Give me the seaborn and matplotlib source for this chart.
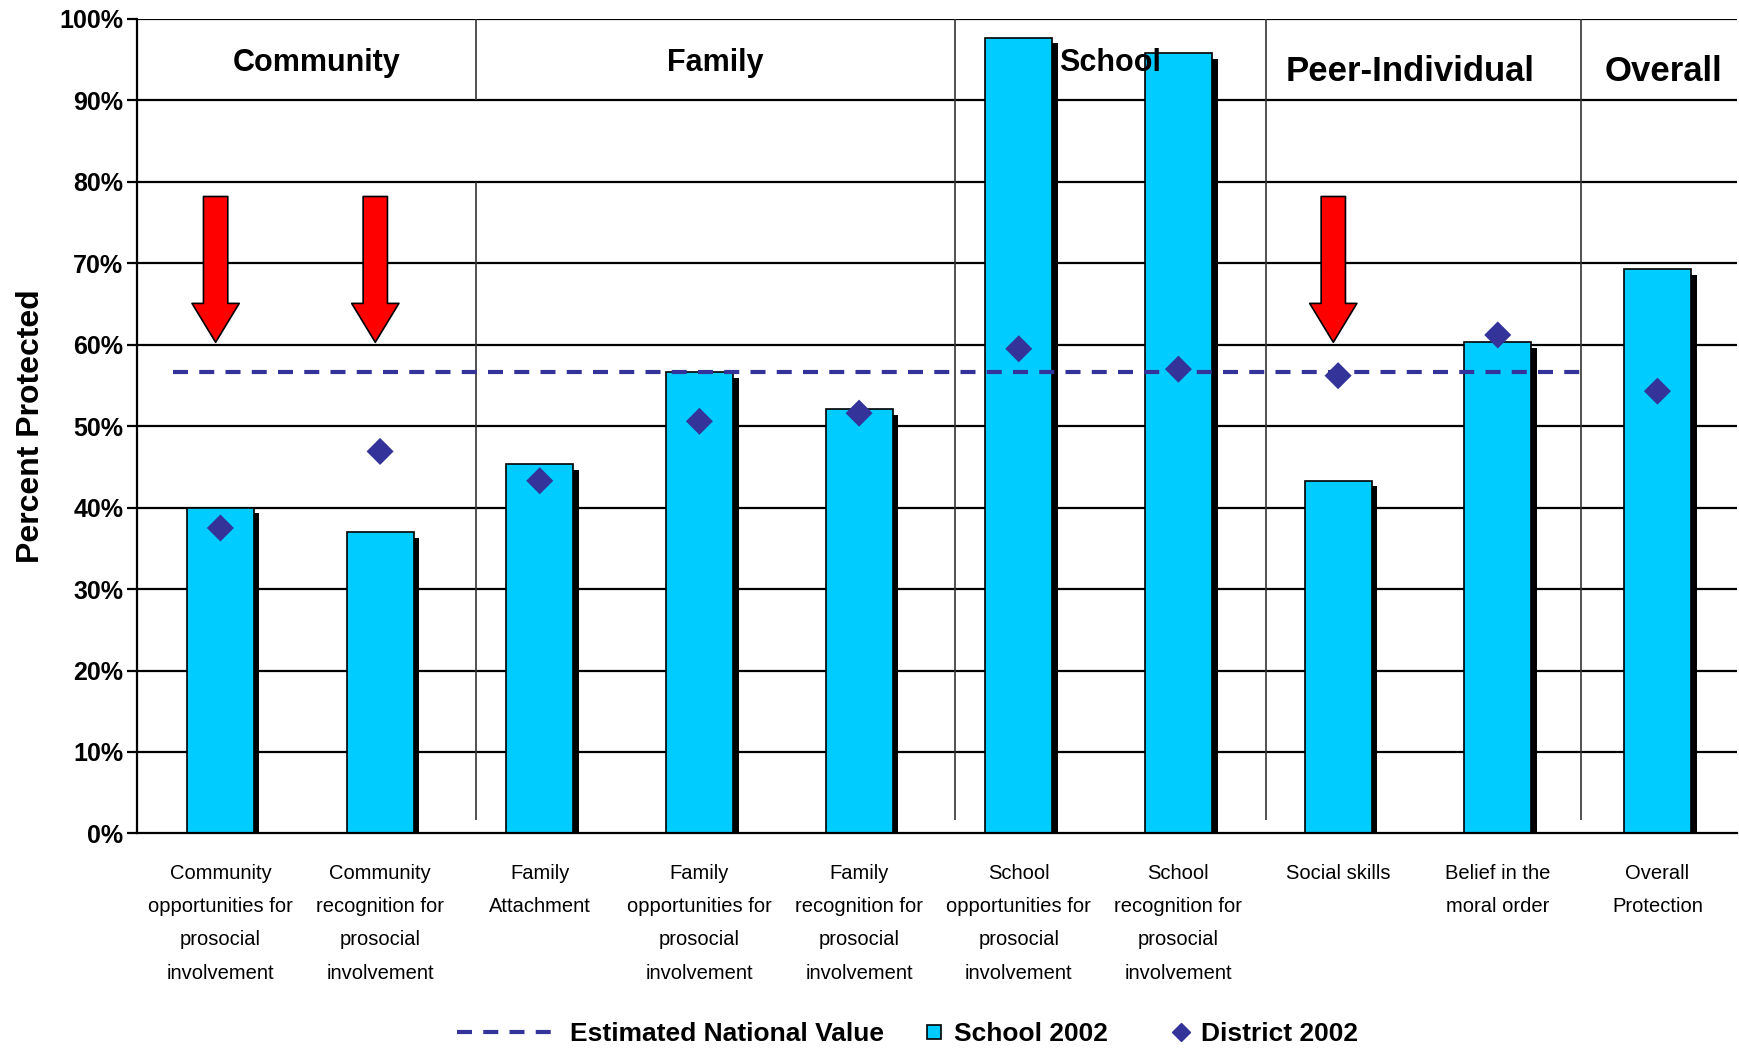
import numpy as np
import matplotlib
matplotlib.use("Agg")
import matplotlib.pyplot as plt
import matplotlib.patheffects as pe
from matplotlib.lines import Line2D
import seaborn as sns

categories = [
    "Community\nopportunities for\nprosocial\ninvolvement",
    "Community\nrecognition for\nprosocial\ninvolvement",
    "Family\nAttachment",
    "Family\nopportunities for\nprosocial\ninvolvement",
    "Family\nrecognition for\nprosocial\ninvolvement",
    "School\nopportunities for\nprosocial\ninvolvement",
    "School\nrecognition for\nprosocial\ninvolvement",
    "Social skills",
    "Belief in the\nmoral order",
    "Overall\nProtection",
]
school_2002 = [40.0, 37.0, 45.3, 56.6, 52.1, 97.7, 95.8, 43.3, 60.3, 69.3]
district_2002 = [37.5, 46.9, 43.3, 50.6, 51.6, 59.5, 57.0, 56.2, 61.2, 54.3]
national_value = 56.6
flagged = [0, 1, 7]  # categories marked with a red arrow

domains = ["Community", "Family", "School", "Peer-Individual", "Overall"]

sns.set_theme(style="white")
plt.rcParams['font.family'] = ['Liberation Sans', 'DejaVu Sans']
plt.rcParams['text.color'] = 'black'
plt.rcParams['axes.labelcolor'] = 'black'
plt.rcParams['xtick.color'] = 'black'
plt.rcParams['ytick.color'] = 'black'

fig, ax = plt.subplots(figsize=(17.39, 10.51), dpi=100)
fig.subplots_adjust(left=0.079, right=0.999, top=0.982, bottom=0.207)

x = np.arange(len(categories))

# grid behind everything
for v in range(10, 101, 10):
    ax.axhline(v, color="black", lw=1.6, zorder=0)

sns.barplot(x=x, y=school_2002, color="#00CCFF", width=0.42,
            edgecolor="black", linewidth=1.2, saturation=1, ax=ax, zorder=2)
for p in ax.patches:
    p.set_path_effects([pe.SimplePatchShadow(offset=(4, -4), shadow_rgbFace="black", alpha=1),
                        pe.Normal()])

# section dividers
dividers = [1.6, 4.6, 6.55, 8.52]
ax.vlines(dividers[0], 90, 100, color="#333333", lw=1.2, zorder=1)
ax.vlines(dividers[0], 1.6, 80, color="#333333", lw=1.2, zorder=1)
ax.vlines(dividers[1:], 1.6, 100, color="#333333", lw=1.2, zorder=1)

# national line
dash = (0, (3.6, 2.7))
ax.hlines(national_value, -0.3, dividers[-1], color="#333399", lw=3,
          linestyles=dash, zorder=3)

sns.scatterplot(x=x, y=district_2002, marker="D", s=190, color="#333399",
                edgecolor="none", ax=ax, zorder=4)

for i in flagged:
    ax.annotate("", xy=(i - 0.03, 60.3), xytext=(i - 0.03, 78.2),
                arrowprops=dict(arrowstyle="simple,tail_width=1.75,head_width=3.4,head_length=2.8",
                                fc="#FF0000", ec="black", lw=1.2, mutation_scale=10,
                                shrinkA=0, shrinkB=0), zorder=5)

# domain headers
header_x = [0.6, 3.1, 5.57, 7.45, 9.04]
header_y = [94.6, 94.6, 94.6, 93.6, 93.6]
header_size = [22, 22, 22, 25, 25]
for name, hx, hy, hs in zip(domains, header_x, header_y, header_size):
    ax.text(hx, hy, name, ha="center", va="center", fontsize=hs,
            fontweight="bold", zorder=6)

ax.set_xlim(-0.52, 9.5)
ax.set_ylim(0, 100)
ax.set_yticks(range(0, 101, 10))
ax.set_yticklabels([f"{v}%" for v in range(0, 101, 10)], fontsize=18, fontweight="bold")
ax.set_xticks(x)
ax.set_xticklabels(categories, fontsize=14.5, linespacing=1.95)
ax.tick_params(axis="x", length=0, pad=22)
ax.tick_params(axis="y", length=7, width=1.6, direction="out", left=True, pad=3)
ax.set_ylabel("Percent Protected", fontsize=23, fontweight="bold", labelpad=10)
ax.set_xlabel("")

for s in ["top", "right"]:
    ax.spines[s].set_visible(False)
for s in ["left", "bottom"]:
    ax.spines[s].set_color("black")
    ax.spines[s].set_linewidth(1.6)

legend_items = [
    (Line2D([0], [0], color="#333399", lw=3, linestyle=dash), "Estimated National Value", 0.263, 3.9),
    (Line2D([0], [0], marker="s", color="#00CCFF", markeredgecolor="black", markeredgewidth=1.2,
            linestyle="none", markersize=10), "School 2002", 0.531, 0.8),
    (Line2D([0], [0], marker="D", color="#333399", linestyle="none", markersize=9),
     "District 2002", 0.673, 0.8),
]
for handle, label, lx, hl in legend_items:
    fig.legend([handle], [label], loc="center left", bbox_to_anchor=(lx, 0.016),
               frameon=False, prop={"weight": "bold", "size": 19}, handlelength=hl,
               handletextpad=0.35, borderpad=0, borderaxespad=0)

fig.savefig("out.png", dpi=100)
